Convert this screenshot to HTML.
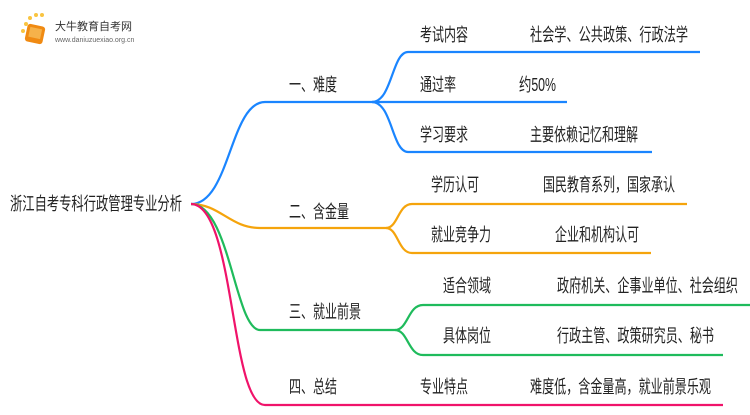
<!DOCTYPE html>
<html><head><meta charset="utf-8"><style>
body{margin:0;width:750px;height:410px;background:#fff;overflow:hidden;font-family:"Liberation Sans","Noto Sans CJK SC",sans-serif}
svg text{font-family:"Liberation Sans","Noto Sans CJK SC",sans-serif;font-size:18px;fill:#222}
</style></head><body>
<svg width="750" height="410" xmlns="http://www.w3.org/2000/svg">
<g>
<circle cx="26" cy="24" r="2" fill="#f9c440"/><circle cx="30" cy="18" r="2" fill="#f9c440"/><circle cx="36" cy="15" r="2" fill="#f9c440"/><circle cx="42" cy="15" r="2" fill="#f9c440"/><circle cx="23" cy="31" r="2" fill="#f9c440"/>
<rect x="26" y="25" width="18" height="18" rx="3" fill="#f08a12" transform="rotate(12 35 34)"/>
<rect x="29" y="28" width="12" height="10" fill="#f6b24a" transform="rotate(12 35 34)"/>
<text x="55" y="30" style="font-size:11px;fill:#333">大牛教育自考网</text>
<text x="55" y="42" style="font-size:7px;fill:#666">www.daniuzuexiao.org.cn</text>
</g>
<text x="10" y="210" textLength="172" lengthAdjust="spacingAndGlyphs">浙江自考专科行政管理专业分析</text>
<g fill="none" stroke-width="2.2">
<path d="M191 204 C230 204,230 102,265 102 L372 102" stroke="#1a85ff"/>
<path d="M372 102 C392 102,392 52,408 52 L700 52" stroke="#1a85ff"/>
<path d="M372 102 L567 102" stroke="#1a85ff"/>
<path d="M372 102 C392 102,392 152,408 152 L652 152" stroke="#1a85ff"/>
<path d="M191 204 C220 204,230 228,260 228 L386 228" stroke="#f5a40c"/>
<path d="M386 228 C398 228,398 204,412 204 L687 204" stroke="#f5a40c"/>
<path d="M386 228 C398 228,398 253,412 253 L651 253" stroke="#f5a40c"/>
<path d="M191 204 C230 204,235 330,260 330 L395 330" stroke="#1fbb5c"/>
<path d="M395 330 C408 330,408 305,423 305 L750 305" stroke="#1fbb5c"/>
<path d="M395 330 C408 330,408 355,423 355 L723 355" stroke="#1fbb5c"/>
<path d="M191 204 C235 204,230 405,265 405 L723 405" stroke="#f0136a"/>
</g>
<g>
<text x="289" y="91" textLength="48" lengthAdjust="spacingAndGlyphs">一、难度</text>
<text x="420" y="41" textLength="48" lengthAdjust="spacingAndGlyphs">考试内容</text><text x="530" y="41" textLength="158" lengthAdjust="spacingAndGlyphs">社会学、公共政策、行政法学</text>
<text x="420" y="91" textLength="36" lengthAdjust="spacingAndGlyphs">通过率</text><text x="519" y="91" textLength="37" lengthAdjust="spacingAndGlyphs">约50%</text>
<text x="420" y="141" textLength="48" lengthAdjust="spacingAndGlyphs">学习要求</text><text x="530" y="141" textLength="108" lengthAdjust="spacingAndGlyphs">主要依赖记忆和理解</text>
<text x="289" y="218" textLength="60" lengthAdjust="spacingAndGlyphs">二、含金量</text>
<text x="431" y="191" textLength="48" lengthAdjust="spacingAndGlyphs">学历认可</text><text x="543" y="191" textLength="132" lengthAdjust="spacingAndGlyphs">国民教育系列，国家承认</text>
<text x="431" y="241" textLength="60" lengthAdjust="spacingAndGlyphs">就业竞争力</text><text x="555" y="241" textLength="84" lengthAdjust="spacingAndGlyphs">企业和机构认可</text>
<text x="289" y="318" textLength="72" lengthAdjust="spacingAndGlyphs">三、就业前景</text>
<text x="443" y="292" textLength="48" lengthAdjust="spacingAndGlyphs">适合领域</text><text x="557" y="292" textLength="181" lengthAdjust="spacingAndGlyphs">政府机关、企事业单位、社会组织</text>
<text x="443" y="342" textLength="48" lengthAdjust="spacingAndGlyphs">具体岗位</text><text x="557" y="342" textLength="157" lengthAdjust="spacingAndGlyphs">行政主管、政策研究员、秘书</text>
<text x="289" y="393" textLength="48" lengthAdjust="spacingAndGlyphs">四、总结</text>
<text x="420" y="393" textLength="48" lengthAdjust="spacingAndGlyphs">专业特点</text><text x="530" y="393" textLength="181" lengthAdjust="spacingAndGlyphs">难度低，含金量高，就业前景乐观</text>
</g>
</svg>
</body></html>
